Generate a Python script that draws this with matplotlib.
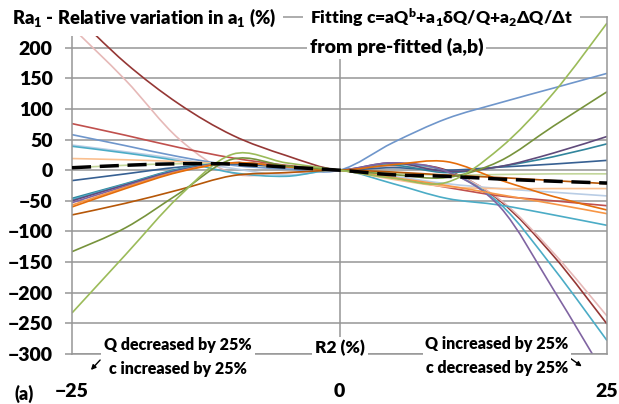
import numpy as np
import matplotlib
matplotlib.use('Agg')
import matplotlib.pyplot as plt
from matplotlib.path import Path
from matplotlib.patches import PathPatch, FancyArrowPatch

plt.rcParams['font.family'] = ['Lato', 'DejaVu Sans']
plt.rcParams['font.weight'] = 'heavy'
plt.rcParams['mathtext.default'] = 'regular'

# R2 (%) positions and Ra1 (%) per fitted series
r2 = [-25, -20, -15, -10, -5, 0, 5, 10, 15, 20, 25]

dark_red = [258, 175, 108, 57, 24, 0, 10, 0, -50, -140, -251]
pink = [233, 147, 51, -5, -4, 0, 6, -2, -48, -135, -238]
red = [76, 57, 37, 20, 8, 0, -13, -28, -42, -50, -58]
blue = [58, 40, 22, 8, 2, 0, 45, 84, 110, 134, 158]
light_blue = [41, 30, 18, 3, -8, 0, -10, -22, -30, -36, -42]
aqua = [39, 28, 15, -4, -10, 0, -22, -46, -57, -73, -90]
light_orange = [19, 17, 14, 10, 5, 0, -15, -27, -30, -30, -30]
light_green = [4, 8, 10.5, 10, 5, 0, -5, -8, -7, -6, -6]
dark_blue = [-17, -6, 5, 10, 5, 0, 4, 0, 5, 10, 16]
teal = [-46, -22, 2, 12, 6, 0, 8, -4, 6, 22, 43]
aqua_steep = [-48, -23, 1, 12, 6, 0, 10, -2, -55, -160, -278]
dark_purple = [-50, -24, 0, 12, 6, 0, 12, -2, 6, 28, 55]
purple = [-53, -26, -1, 12, 6, 0, 12, -2, -60, -195, -340]
orange = [-57, -28, -2, 12, 6, 0, -12, -25, -40, -55, -71]
burnt_orange = [-60, -30, -3, 12, 6, 0, 9, 14, -16, -43, -65]
dark_orange = [-73, -54, -32, -9, -4, 0, -3, -8, -12, -17, -22]
dark_green = [-133, -94, -38, 18, 7, 0, -7, -12, 15, 72, 128]
green = [-233, -138, -43, 26, 12, 0, -13, -20, 36, 126, 240]
reference = [4, 8, 10.5, 10, 5, 0, -7.5, -10, -14.5, -18, -21]

series = [dark_red, pink, red, blue, light_blue, aqua, light_orange, light_green,
          dark_blue, teal, aqua_steep, dark_purple, purple, orange, burnt_orange,
          dark_orange, dark_green, green]
colors = ['#953735', '#e6b9b8', '#c0504d', '#6f96cb', '#b9cde5', '#4bacc6', '#fac090',
          '#c3d69b', '#376092', '#31859c', '#4bacc6', '#604a7b', '#8064a2', '#f79646',
          '#e46c0a', '#b65708', '#77933c', '#9bbb59']


def smooth_path(xs, ys):
    # bezier segments like a spreadsheet "smoothed line"
    pts = np.column_stack([xs, ys]).astype(float)
    p = np.vstack([pts[0], pts, pts[-1]])
    verts = [pts[0]]
    codes = [Path.MOVETO]
    for i in range(1, len(p) - 2):
        c1 = p[i] + (p[i + 1] - p[i - 1]) / 6
        c2 = p[i + 1] - (p[i + 2] - p[i]) / 6
        verts += [c1, c2, p[i + 1]]
        codes += [Path.CURVE4] * 3
    return Path(verts, codes)


W, H = 619, 404
fig = plt.figure(figsize=(W / 100, H / 100), dpi=100)
ax = fig.add_axes([72 / W, 1 - 354 / H, (607 - 72) / W, (354 - 17) / H])

grid_c = '#969696'
ax.set_xlim(-25, 25)
ax.set_ylim(-300, 250)
ax.set_yticks(range(-300, 201, 50))
ax.set_xticks([-25, 0, 25])
ax.yaxis.grid(True, color=grid_c, lw=1.1)
ax.axvline(0, color=grid_c, lw=1.1, zorder=1)
for s in ax.spines.values():
    s.set_color(grid_c)
    s.set_linewidth(1.1)
ax.tick_params(axis='y', length=5, width=1.1, color=grid_c, pad=9, labelsize=14)
ax.tick_params(axis='x', length=0, pad=21, labelsize=14)
ax.set_axisbelow(True)

for ys, c in zip(series, colors):
    ax.add_patch(PathPatch(smooth_path(r2, ys), fill=False, edgecolor=c, lw=1.2, zorder=2))
ax.add_patch(PathPatch(smooth_path(r2, reference), fill=False, edgecolor='black', lw=2.5,
                       linestyle=(0, (5.5, 2.5)), zorder=3))

box = dict(facecolor='white', edgecolor='none', pad=2)
fig.text(12 / W, 1 - 18 / H, 'Ra$_1$ - Relative variation in a$_1$ (%)', fontsize=13.2,
         va='center', ha='left', bbox=dict(facecolor='white', edgecolor='none', pad=5))
fig.text(310 / W, 1 - 18 / H, 'Fitting c=aQ$^b$+a$_1$\u03b4Q/Q+a$_2$\u0394Q/\u0394t', fontsize=12.6,
         va='center', ha='left', bbox=dict(facecolor='white', edgecolor='none', pad=5))
fig.text(310 / W, 1 - 47 / H, 'from pre-fitted (a,b)', fontsize=14,
         va='center', ha='left', bbox=box)
fig.text(178 / W, 1 - 357 / H, 'Q decreased by 25%\nc increased by 25%', fontsize=11.5,
         va='center', ha='center', linespacing=1.55, bbox=box)
fig.text(340 / W, 1 - 348 / H, 'R2 (%)', fontsize=12.5, va='center', ha='center', bbox=box)
fig.text(497 / W, 1 - 356 / H, 'Q increased by 25%\nc decreased by 25%', fontsize=11.5,
         va='center', ha='center', linespacing=1.55, bbox=box)
fig.text(24 / W, 1 - 394 / H, '(a)', fontsize=13, va='center', ha='center')

fig.add_artist(FancyArrowPatch(
    (102 / W, 1 - 358 / H), (89 / W, 1 - 372 / H), transform=fig.transFigure,
    arrowstyle='-|>', mutation_scale=7, color='black', lw=1))
fig.add_artist(FancyArrowPatch(
    (567 / W, 1 - 356 / H), (584 / W, 1 - 368 / H), transform=fig.transFigure,
    arrowstyle='-|>', mutation_scale=7, color='black', lw=1))

fig.savefig('out.png', dpi=100)
